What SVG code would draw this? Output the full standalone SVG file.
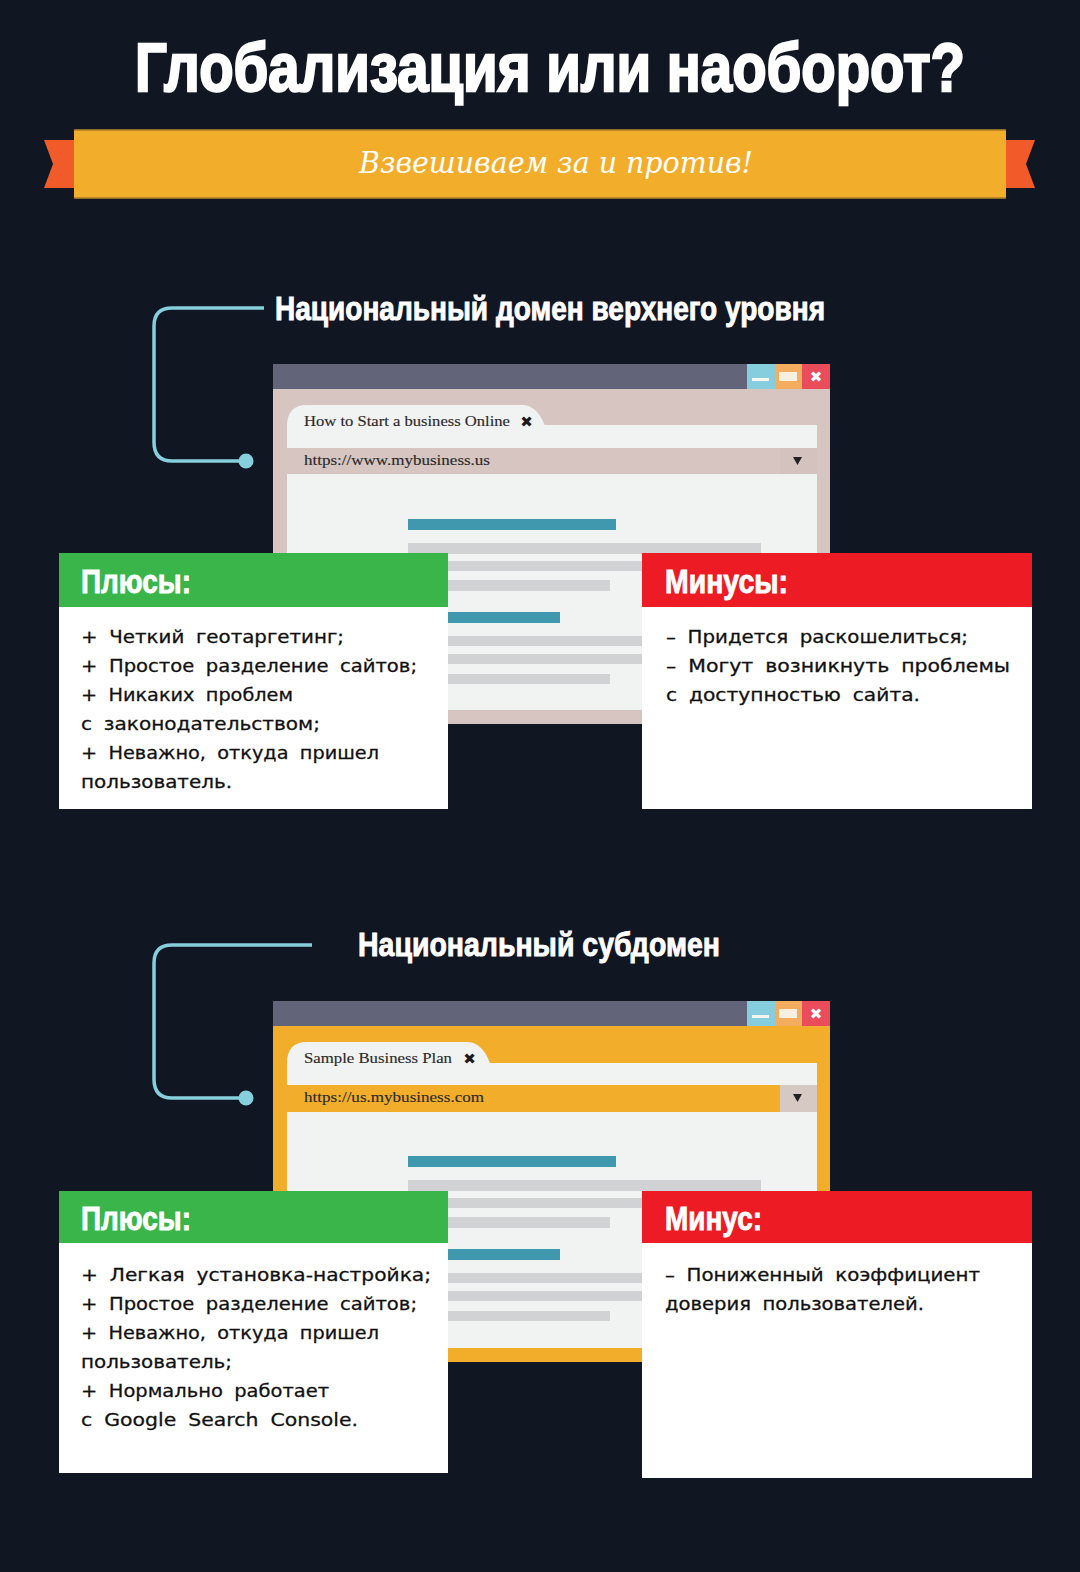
<svg xmlns="http://www.w3.org/2000/svg" width="1080" height="1572" viewBox="0 0 1080 1572">
<style>
.h{font-family:"Liberation Sans Narrow","Liberation Sans",Arial,sans-serif;font-weight:700;fill:#fff;stroke:#fff;stroke-width:.9px}
.b{font-family:"DejaVu Sans",sans-serif;font-size:18.500px;fill:#111;word-spacing:5px;stroke:#111;stroke-width:.3px}
.u{font-family:"Liberation Serif","DejaVu Serif",serif;font-size:15.500px;fill:#2a2a2a;stroke:#2a2a2a;stroke-width:.15px}
.c{fill:none;stroke:#86cfdc;stroke-width:3.5}
.d{fill:#86cfdc}
.g{fill:#d0d2d3}
.t{fill:#3f98ad}
.w{fill:#f1f2f2}
.x{font-family:"DejaVu Sans",sans-serif;font-weight:700;fill:#fff;font-size:15px}
.y{font-family:"DejaVu Sans",sans-serif;font-size:15px;fill:#1b1b1b}
</style>
<rect width="1080" height="1572" fill="#111623"/>
<g id="title"><text class="h" transform="translate(135,91) scale(1,1.3)" x="0" y="0" font-size="52" textLength="830" lengthAdjust="spacingAndGlyphs" style="stroke-width:1.800px">Глобализация или наоборот?</text></g>
<g id="ribbon">
<path d="M44 140H74V188H44L53 164Z" fill="#f15a29"/>
<path d="M1035 140H1005V188H1035L1026 164Z" fill="#f15a29"/>
<rect x="74" y="130" width="932" height="68" fill="#f2ae2b"/>
<rect x="74" y="129" width="932" height="1.500" fill="#8a6a26"/><rect x="74" y="197.500" width="932" height="1.500" fill="#8a6a26"/>
<text x="556" y="173" font-family="DejaVu Serif,serif" font-style="italic" font-size="29" fill="#fff" text-anchor="middle" textLength="394" lengthAdjust="spacingAndGlyphs">Взвешиваем за и против!</text>
</g>
<g id="connectors">
<path class="c" d="M264 308H172Q154 308 154 326V442Q154 461 172 461H240"/><circle class="d" cx="246" cy="461" r="7.500"/>
<path class="c" d="M312 945H172Q154 945 154 963V1079Q154 1098 172 1098H240"/><circle class="d" cx="246" cy="1098" r="7.500"/>
</g>
<g id="section1">
<text class="h" x="550" y="320" font-size="33" text-anchor="middle" textLength="550" lengthAdjust="spacingAndGlyphs">Национальный домен верхнего уровня</text>
<g id="browser1">
<rect x="273" y="364" width="557" height="360" fill="#d6c5c1"/>
<rect x="273" y="364" width="557" height="25" fill="#62657a"/>
<rect x="747" y="364" width="28" height="25" fill="#86cedd"/><rect x="775" y="364" width="27" height="25" fill="#f4ad5e"/><rect x="802" y="364" width="28" height="25" fill="#ea4c5c"/>
<rect x="752" y="378" width="17" height="3" fill="#f6f6f0"/><rect x="779" y="372" width="18" height="9" fill="#f6f0e0"/><text class="x" x="816" y="382" text-anchor="middle">✖</text>
<rect x="287" y="425" width="530" height="285" class="w"/>
<path d="M287 426Q287 405 307 405H522Q537 405 545 426V448H287Z" class="w"/>
<rect x="287" y="448" width="530" height="26" fill="#d6c5c1"/><rect x="780" y="448" width="37" height="26" fill="#d3c2be"/>
<path d="M793 457h9l-4.500 8z" fill="#222"/>
<text class="u" x="304" y="426" textLength="206" lengthAdjust="spacingAndGlyphs">How to Start a business Online</text><text class="y" x="526.500" y="427" text-anchor="middle">✖</text>
<text class="u" x="304" y="465" textLength="186" lengthAdjust="spacingAndGlyphs">https://www.mybusiness.us</text>
<rect x="408" y="519" width="208" height="11" class="t"/><rect x="408" y="543" width="353" height="11" class="g"/><rect x="408" y="561" width="353" height="10" class="g"/><rect x="408" y="580" width="202" height="11" class="g"/><rect x="408" y="612" width="152" height="11" class="t"/><rect x="408" y="636" width="353" height="10" class="g"/><rect x="408" y="654" width="353" height="10" class="g"/><rect x="408" y="674" width="202" height="10" class="g"/>
</g>
<g id="plus1"><rect x="59" y="553" width="389" height="256" fill="#fff"/><rect x="59" y="553" width="389" height="54" fill="#39b54a"/><text class="h" x="81" y="593" font-size="34" textLength="110" lengthAdjust="spacingAndGlyphs">Плюсы:</text>
<g class="b" transform="translate(0,-1)"><text x="81" y="644" textLength="263" lengthAdjust="spacingAndGlyphs">+ Четкий геотаргетинг;</text><text x="81" y="673" textLength="336" lengthAdjust="spacingAndGlyphs">+ Простое разделение сайтов;</text><text x="81" y="702" textLength="212" lengthAdjust="spacingAndGlyphs">+ Никаких проблем</text><text x="81" y="731" textLength="239" lengthAdjust="spacingAndGlyphs">с законодательством;</text><text x="81" y="760" textLength="298" lengthAdjust="spacingAndGlyphs">+ Неважно, откуда пришел</text><text x="81" y="789" textLength="151" lengthAdjust="spacingAndGlyphs">пользователь.</text></g></g>
<g id="minus1"><rect x="642" y="553" width="390" height="256" fill="#fff"/><rect x="642" y="553" width="390" height="54" fill="#ed1c24"/><text class="h" x="665" y="593" font-size="34" textLength="123" lengthAdjust="spacingAndGlyphs">Минусы:</text>
<g class="b" transform="translate(0,-1)"><text x="666" y="644" textLength="302" lengthAdjust="spacingAndGlyphs">– Придется раскошелиться;</text><text x="666" y="673" textLength="344" lengthAdjust="spacingAndGlyphs">– Могут возникнуть проблемы</text><text x="666" y="702" textLength="254" lengthAdjust="spacingAndGlyphs">с доступностью сайта.</text></g></g>
</g>
<g id="section2">
<text class="h" x="539" y="956" font-size="33" text-anchor="middle" textLength="362" lengthAdjust="spacingAndGlyphs">Национальный субдомен</text>
<g id="browser2">
<rect x="273" y="1001" width="557" height="361" fill="#f2ae2b"/>
<rect x="273" y="1001" width="557" height="25" fill="#62657a"/>
<rect x="747" y="1001" width="28" height="25" fill="#86cedd"/><rect x="775" y="1001" width="27" height="25" fill="#f4ad5e"/><rect x="802" y="1001" width="28" height="25" fill="#ea4c5c"/>
<rect x="752" y="1015" width="17" height="3" fill="#f6f6f0"/><rect x="779" y="1009" width="18" height="9" fill="#f6f0e0"/><text class="x" x="816" y="1019" text-anchor="middle">✖</text>
<rect x="287" y="1063" width="530" height="285" class="w"/>
<path d="M287 1063Q287 1042 307 1042H467Q482 1042 490 1063V1085H287Z" class="w"/>
<rect x="287" y="1085" width="530" height="27" fill="#f2ae2b"/><rect x="780" y="1085" width="37" height="27" fill="#d6c9c4"/>
<path d="M793 1094h9l-4.500 8z" fill="#222"/>
<text class="u" x="304" y="1063" textLength="148" lengthAdjust="spacingAndGlyphs">Sample Business Plan</text><text class="y" x="469.500" y="1064" text-anchor="middle">✖</text>
<text class="u" x="304" y="1102" textLength="180" lengthAdjust="spacingAndGlyphs">https://us.mybusiness.com</text>
<rect x="408" y="1156" width="208" height="11" class="t"/><rect x="408" y="1180" width="353" height="11" class="g"/><rect x="408" y="1198" width="353" height="10" class="g"/><rect x="408" y="1217" width="202" height="11" class="g"/><rect x="408" y="1249" width="152" height="11" class="t"/><rect x="408" y="1273" width="353" height="10" class="g"/><rect x="408" y="1291" width="353" height="10" class="g"/><rect x="408" y="1311" width="202" height="10" class="g"/>
</g>
<g id="plus2"><rect x="59" y="1191" width="389" height="282" fill="#fff"/><rect x="59" y="1191" width="389" height="52" fill="#39b54a"/><text class="h" x="81" y="1230" font-size="34" textLength="110" lengthAdjust="spacingAndGlyphs">Плюсы:</text>
<g class="b" transform="translate(0,-1)"><text x="81" y="1282" textLength="350" lengthAdjust="spacingAndGlyphs">+ Легкая установка-настройка;</text><text x="81" y="1311" textLength="336" lengthAdjust="spacingAndGlyphs">+ Простое разделение сайтов;</text><text x="81" y="1340" textLength="298" lengthAdjust="spacingAndGlyphs">+ Неважно, откуда пришел</text><text x="81" y="1369" textLength="151" lengthAdjust="spacingAndGlyphs">пользователь;</text><text x="81" y="1398" textLength="248" lengthAdjust="spacingAndGlyphs">+ Нормально работает</text><text x="81" y="1427" textLength="277" lengthAdjust="spacingAndGlyphs">с Google Search Console.</text></g></g>
<g id="minus2"><rect x="642" y="1191" width="390" height="287" fill="#fff"/><rect x="642" y="1191" width="390" height="52" fill="#ed1c24"/><text class="h" x="665" y="1230" font-size="34" textLength="97" lengthAdjust="spacingAndGlyphs">Минус:</text>
<g class="b" transform="translate(0,-1)"><text x="665" y="1282" textLength="315" lengthAdjust="spacingAndGlyphs">– Пониженный коэффициент</text><text x="665" y="1311" textLength="259" lengthAdjust="spacingAndGlyphs">доверия пользователей.</text></g></g>
</g>
</svg>
